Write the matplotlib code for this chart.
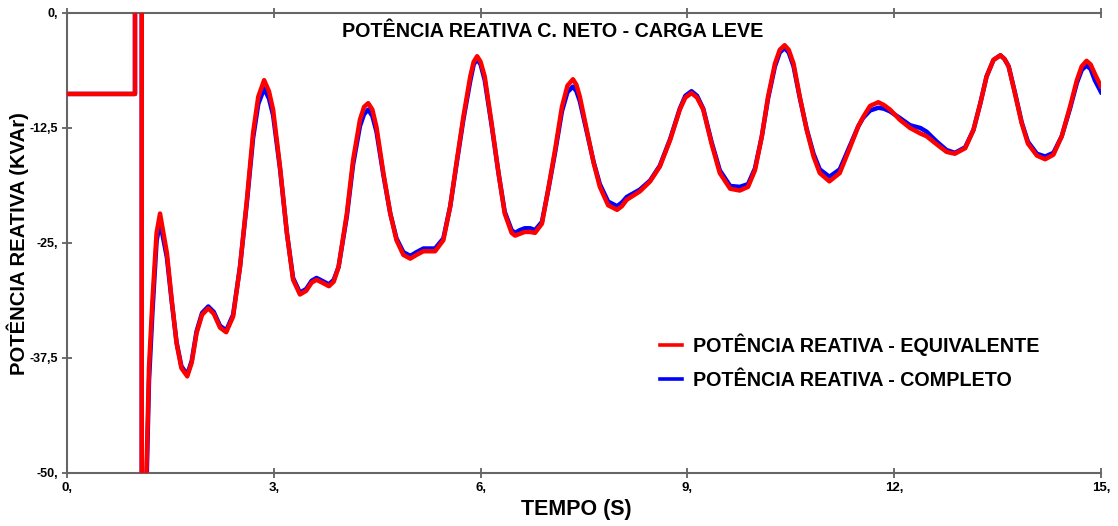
import matplotlib
matplotlib.use("Agg")
import matplotlib.pyplot as plt

# time (s) and reactive power (kVAr)
time_eq = [0.0, 0.987, 0.987, 1.085, 1.085, 1.12, 1.19, 1.24, 1.30, 1.35,
           1.45, 1.52, 1.59, 1.66, 1.745, 1.81, 1.88, 1.96, 2.05, 2.13,
           2.22, 2.31, 2.41, 2.51, 2.61, 2.70, 2.775, 2.86, 2.93, 2.99,
           3.09, 3.19, 3.28, 3.38, 3.47, 3.55, 3.62, 3.70, 3.80, 3.87,
           3.94, 4.06, 4.15, 4.25, 4.31, 4.37, 4.43, 4.49, 4.59, 4.69,
           4.78, 4.88, 4.98, 5.07, 5.17, 5.34, 5.46, 5.56, 5.65, 5.75,
           5.85, 5.90, 5.95, 6.00, 6.06, 6.16, 6.26, 6.35, 6.45, 6.50,
           6.57, 6.64, 6.72, 6.79, 6.89, 6.98, 7.08, 7.18, 7.26, 7.34,
           7.39, 7.44, 7.54, 7.64, 7.73, 7.85, 7.98, 8.05, 8.12, 8.31,
           8.46, 8.60, 8.75, 8.89, 8.97, 9.06, 9.14, 9.23, 9.35, 9.47,
           9.62, 9.76, 9.88, 9.98, 10.08, 10.17, 10.27, 10.34, 10.41, 10.47,
           10.54, 10.63, 10.73, 10.83, 10.92, 11.06, 11.21, 11.36, 11.48, 11.55,
           11.65, 11.77, 11.85, 11.94, 12.08, 12.23, 12.38, 12.47, 12.62, 12.76,
           12.88, 13.03, 13.15, 13.25, 13.34, 13.44, 13.54, 13.60, 13.66, 13.75,
           13.85, 13.94, 14.07, 14.19, 14.31, 14.43, 14.55, 14.65, 14.72, 14.79,
           14.85, 14.91, 15.0]
q_equivalente = [-8.8, -8.8, 5.0, 5.0, -70.0, -60.0, -38.5, -31.2, -23.9, -21.8,
                 -26.1, -31.2, -35.9, -38.6, -39.5, -38.0, -34.8, -32.8, -32.1, -32.7,
                 -34.2, -34.7, -33.0, -27.6, -20.3, -13.0, -9.1, -7.3, -8.5, -10.5,
                 -16.7, -23.9, -29.0, -30.6, -30.2, -29.3, -29.0, -29.3, -29.7, -29.2,
                 -27.6, -21.8, -16.0, -11.6, -10.2, -9.8, -10.5, -12.4, -17.4, -21.8,
                 -24.7, -26.3, -26.7, -26.3, -25.9, -25.9, -24.7, -21.0, -16.3, -11.3,
                 -6.9, -5.3, -4.7, -5.3, -6.9, -12.0, -17.4, -21.8, -23.9, -24.2,
                 -24.0, -23.8, -23.8, -23.9, -22.9, -19.2, -14.9, -10.2, -7.9, -7.2,
                 -7.8, -9.1, -12.7, -16.3, -18.9, -20.9, -21.4, -21.0, -20.3, -19.4,
                 -18.3, -16.7, -13.8, -10.5, -9.2, -8.7, -9.2, -10.5, -14.2, -17.4,
                 -19.1, -19.3, -18.9, -17.1, -13.4, -9.1, -5.5, -4.0, -3.5, -4.0,
                 -5.5, -9.1, -12.7, -15.6, -17.4, -18.3, -17.4, -14.6, -12.3, -11.3,
                 -10.1, -9.7, -10.0, -10.5, -11.6, -12.5, -13.1, -13.4, -14.3, -15.1,
                 -15.3, -14.7, -12.7, -9.8, -6.9, -5.1, -4.6, -5.0, -5.8, -8.7,
                 -12.0, -14.2, -15.5, -15.9, -15.4, -13.4, -10.2, -7.3, -5.8, -5.2,
                 -5.6, -6.6, -8.0]
q_completo = [-8.8, -8.8, 5.0, 5.0, -70.0, -62.0, -40.0, -32.5, -24.8, -22.7,
              -26.6, -31.4, -35.8, -38.4, -39.3, -37.8, -34.6, -32.6, -31.9, -32.5,
              -34.0, -34.5, -32.8, -27.6, -20.6, -13.6, -9.9, -8.2, -9.3, -11.1,
              -16.9, -23.9, -28.8, -30.4, -30.0, -29.1, -28.8, -29.1, -29.5, -29.0,
              -27.6, -22.1, -16.5, -12.3, -11.0, -10.5, -11.2, -12.9, -17.6, -21.8,
              -24.5, -26.0, -26.4, -26.0, -25.6, -25.6, -24.5, -21.0, -16.5, -11.6,
              -7.4, -5.6, -5.0, -5.6, -7.3, -12.2, -17.4, -21.6, -23.6, -23.9,
              -23.6, -23.4, -23.4, -23.6, -22.7, -19.3, -15.2, -10.7, -8.6, -8.0,
              -8.5, -9.6, -12.9, -16.2, -18.6, -20.5, -21.0, -20.6, -20.0, -19.2,
              -18.2, -16.6, -13.7, -10.4, -9.0, -8.5, -9.0, -10.4, -14.0, -17.1,
              -18.8, -18.9, -18.6, -16.9, -13.4, -9.3, -5.8, -4.3, -3.8, -4.3,
              -5.8, -9.2, -12.6, -15.3, -17.0, -17.8, -17.0, -14.4, -12.3, -11.4,
              -10.6, -10.3, -10.4, -10.7, -11.4, -12.2, -12.5, -12.9, -14.0, -14.9,
              -15.2, -14.6, -12.7, -9.8, -6.9, -5.1, -4.6, -5.0, -5.8, -8.6,
              -11.9, -14.0, -15.3, -15.6, -15.2, -13.4, -10.4, -7.6, -6.2, -5.7,
              -6.1, -7.3, -8.6]

x_ticks = [0, 3, 6, 9, 12, 15]
x_tick_labels = ["0,", "3,", "6,", "9,", "12,", "15,"]
y_ticks = [0, -12.5, -25, -37.5, -50]
y_tick_labels = ["0,", "-12,5", "-25,", "-37,5", "-50,"]

plt.rcParams['font.family'] = ['Liberation Sans', 'DejaVu Sans']
plt.rcParams['font.weight'] = 'bold'

fig = plt.figure(figsize=(11.18, 5.26), dpi=100)
ax = fig.add_axes([0.0599, 0.1008, 0.9249, 0.8745])

ax.plot(time_eq, q_completo, color="#0000ff", lw=3.2, label="POTÊNCIA REATIVA - COMPLETO",
        solid_joinstyle="round", zorder=2)
ax.plot(time_eq, q_equivalente, color="#ff0000", lw=3.2, label="POTÊNCIA REATIVA - EQUIVALENTE",
        solid_joinstyle="round", zorder=3)

ax.set_xlim(0, 15)
ax.set_ylim(-50, 0)
ax.set_xticks(x_ticks)
ax.set_xticklabels(x_tick_labels, fontsize=9.5, fontweight="bold")
ax.set_yticks(y_ticks)
ax.set_yticklabels(y_tick_labels, fontsize=9, fontweight="bold")
ax.tick_params(direction="inout", length=7, width=1.2, color="#555555", top=True, pad=3)

for side in ["left", "bottom", "top"]:
    ax.spines[side].set_color("#666666")
    ax.spines[side].set_linewidth(1.5)
ax.spines["right"].set_visible(False)

# axis labels placed in figure pixels, like the reference
fig.text(576 / 1118, 1 - 510 / 526, "TEMPO (S)", ha="center", va="center",
         fontsize=15.5, fontweight="bold")
fig.text(18 / 1118, 1 - 244 / 526, "POTÊNCIA REATIVA (KVAr)", ha="center", va="center",
         rotation=90, fontsize=14.6, fontweight="bold")

fig.text(0.4946, 0.941, "POTÊNCIA REATIVA C. NETO - CARGA LEVE", ha="center", va="center",
         fontsize=14.2, fontweight="bold")

handles, labels = ax.get_legend_handles_labels()
leg = ax.legend(handles[::-1], labels[::-1], loc="upper left",
                bbox_to_anchor=(650 / 1118, 1 - 324 / 526), bbox_transform=fig.transFigure,
                frameon=False, fontsize=14.2, handlelength=1.1, handletextpad=0.6,
                labelspacing=0.75, borderpad=0)
for line in leg.get_lines():
    line.set_linewidth(2.6)

fig.savefig("out.png", dpi=100)
